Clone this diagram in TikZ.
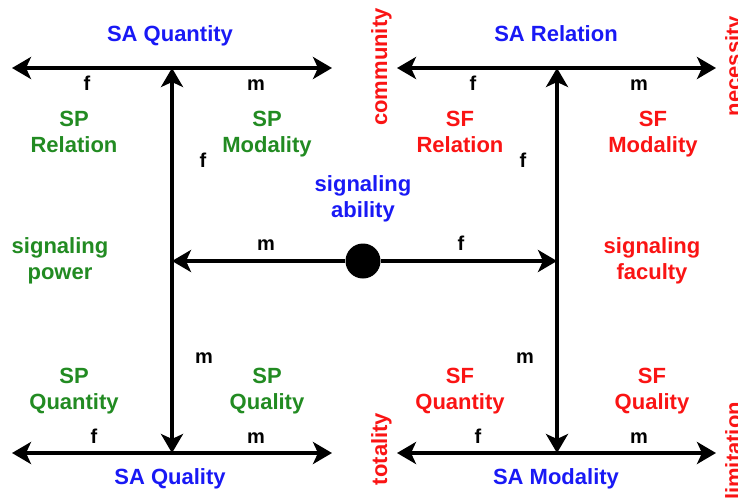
\documentclass[tikz,border=0pt]{standalone}
\usepackage{fontspec}
\setmainfont{Liberation Sans}
\usetikzlibrary{arrows.meta}
\definecolor{sablue}{RGB}{25,25,245}
\definecolor{spgreen}{RGB}{34,139,34}
\definecolor{sfred}{RGB}{250,20,20}
\begin{document}
\begin{tikzpicture}[x=1pt,y=-1pt,
  big/.style={font=\bfseries\fontsize{22}{26}\selectfont, inner sep=0pt, anchor=base, align=center},
  sa/.style={big, text=sablue},
  sp/.style={big, text=spgreen},
  sf/.style={big, text=sfred},
  rot/.style={big, text=sfred, rotate=90},
  lab/.style={font=\bfseries\fontsize{20}{24}\selectfont, inner sep=0pt, anchor=base, text=black},
  arr/.style={line width=4pt, -{Stealth[length=19pt,width=22pt,inset=5pt]}},
  darr/.style={line width=4pt, {Stealth[length=19pt,width=22pt,inset=5pt]}-{Stealth[length=19pt,width=22pt,inset=5pt]}},
  dot/.style={circle, fill=black, minimum size=35pt, inner sep=0pt}
]
\useasboundingbox (0,0) rectangle (738,501);
% coordinates
\coordinate (LTl) at (12,68);
\coordinate (LTr) at (332,68);
\coordinate (LT) at (172,68);
\coordinate (LBl) at (12,453);
\coordinate (LBr) at (332,453);
\coordinate (LB) at (172,453);
\coordinate (RTl) at (397,68);
\coordinate (RTr) at (716,68);
\coordinate (RT) at (557,68);
\coordinate (RBl) at (397,453);
\coordinate (RBr) at (716,453);
\coordinate (RB) at (557,453);
\coordinate (ML) at (172,261);
\coordinate (MR) at (557,261);
% lines
\draw[darr] (LTl) -- (LTr);
\draw[darr] (LBl) -- (LBr);
\draw[darr] (RTl) -- (RTr);
\draw[darr] (RBl) -- (RBr);
\draw[darr] (LT) -- (LB);
\draw[darr] (RT) -- (RB);
\node[dot] (dot) at (363,261) {};
\draw[arr] (dot) -- (ML);
\draw[arr] (dot) -- (MR);
% titles
\node[sa] (saq) at (170,41) {SA Quantity};
\node[sa] (sar) at (556,41) {SA Relation};
\node[sa] (saql) at (170,484) {SA Quality};
\node[sa] (sam) at (556,484) {SA Modality};
\node[sa] (abil) at (363,217) {signaling\\ability};
% green
\node[sp] (spr) at (74,152) {SP\\Relation};
\node[sp] (spm) at (267,152) {SP\\Modality};
\node[sp] (spow) at (60,279) {signaling\\power};
\node[sp] (spqn) at (74,409) {SP\\Quantity};
\node[sp] (spql) at (267,409) {SP\\Quality};
% red
\node[sf] (sfr) at (460,152) {SF\\Relation};
\node[sf] (sfm) at (653,152) {SF\\Modality};
\node[sf] (sfac) at (652,279) {signaling\\faculty};
\node[sf] (sfqn) at (460,409) {SF\\Quantity};
\node[sf] (sfql) at (652,409) {SF\\Quality};
\node[rot] (comm) at (387,67) {community};
\node[rot] (nec) at (741,66) {necessity};
\node[rot] (tot) at (387,449) {totality};
\node[rot] (lim) at (741,451) {limitation};
% f / m labels
\node[lab] (f1) at (87,90) {f};
\node[lab] (m1) at (256,90) {m};
\node[lab] (f2) at (473,90) {f};
\node[lab] (m2) at (639,90) {m};
\node[lab] (f3) at (203,167) {f};
\node[lab] (f4) at (523,167) {f};
\node[lab] (m3) at (266,250) {m};
\node[lab] (f5) at (461,250) {f};
\node[lab] (m4) at (204,363) {m};
\node[lab] (m5) at (525,363) {m};
\node[lab] (f6) at (94,443) {f};
\node[lab] (m6) at (256,443) {m};
\node[lab] (f7) at (478,443) {f};
\node[lab] (m7) at (639,443) {m};
\end{tikzpicture}
\end{document}
